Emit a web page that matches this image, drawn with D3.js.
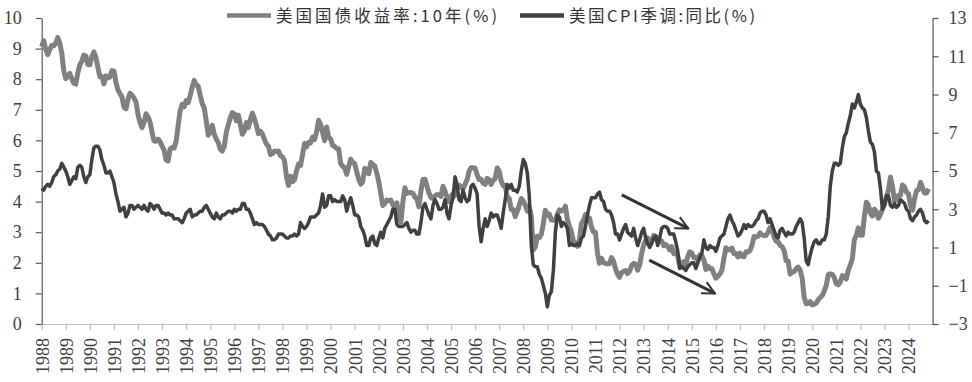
<!DOCTYPE html>
<html><head><meta charset="utf-8">
<script src="https://cdn.jsdelivr.net/npm/d3@7/dist/d3.min.js"></script>
<style>body{margin:0;background:#fff}</style>
</head><body><svg id="c" width="972" height="382"></svg>
<script>
const seriesNames = ["美国国债收益率:10年(%)", "美国CPI季调:同比(%)"];
const seriesColors = ["#808080", "#404040"];
const startYear = 1988, startMonth = 7; // first data point: Jul 1988
const yearLabels = [1988,1989,1990,1991,1992,1993,1994,1995,1996,1997,1998,1999,2000,2001,2002,2003,2004,2005,2006,2007,2008,2009,2010,2011,2012,2013,2014,2015,2016,2017,2018,2019,2020,2021,2022,2023,2024];
const leftTicks = [0,1,2,3,4,5,6,7,8,9,10];
const rightTicks = [-3,-1,1,3,5,7,9,11,13];

// US 10Y Treasury yield, monthly (%), Jul 1988 - May 2025
const yield10y = [
 9.06,9.26,8.98,8.80,8.96,9.11,
 9.09,9.17,9.36,9.18,8.86,8.28,8.02,8.11,8.19,8.01,7.87,7.84,
 8.21,8.47,8.59,8.79,8.76,8.48,8.47,8.75,8.89,8.72,8.39,8.08,
 8.09,7.85,8.11,8.04,8.07,8.28,8.27,7.90,7.65,7.53,7.42,7.09,
 7.03,7.34,7.54,7.48,7.39,7.26,6.84,6.59,6.42,6.59,6.87,6.77,
 6.60,6.26,5.98,5.97,6.04,5.96,5.81,5.68,5.36,5.33,5.72,5.77,
 5.75,5.97,6.48,6.97,7.18,7.10,7.30,7.24,7.46,7.74,7.96,7.81,
 7.78,7.47,7.20,7.06,6.63,6.17,6.28,6.49,6.20,6.04,5.93,5.71,
 5.65,5.81,6.27,6.51,6.74,6.91,6.87,6.64,6.83,6.53,6.20,6.30,
 6.58,6.42,6.69,6.89,6.71,6.49,6.22,6.30,6.21,6.03,5.88,5.81,
 5.54,5.57,5.65,5.64,5.65,5.50,5.46,5.34,4.81,4.53,4.83,4.65,
 4.72,5.00,5.23,5.18,5.54,5.90,5.79,5.94,5.92,6.11,6.03,6.28,
 6.66,6.52,6.26,5.99,6.44,6.10,6.05,5.83,5.80,5.74,5.72,5.24,
 5.16,5.10,4.89,5.14,5.39,5.28,5.24,4.97,4.73,4.57,4.65,5.09,
 5.04,4.91,5.28,5.21,5.16,4.93,4.65,4.26,3.87,3.94,4.05,4.03,
 4.05,3.90,3.81,3.96,3.57,3.33,3.98,4.45,4.27,4.29,4.30,4.27,
 4.15,4.08,3.83,4.35,4.72,4.73,4.50,4.28,4.13,4.10,4.19,4.23,
 4.22,4.17,4.50,4.34,4.14,4.00,4.18,4.26,4.20,4.46,4.54,4.47,
 4.42,4.57,4.72,4.99,5.11,5.11,5.09,4.88,4.72,4.73,4.60,4.56,
 4.76,4.72,4.56,4.69,4.75,5.10,5.00,4.67,4.52,4.53,4.15,4.10,
 3.74,3.74,3.51,3.68,3.88,4.10,4.01,3.89,3.69,3.81,3.53,2.42,
 2.52,2.87,2.82,2.93,3.29,3.72,3.56,3.59,3.40,3.39,3.40,3.59,
 3.73,3.69,3.73,3.85,3.42,3.20,3.01,2.70,2.65,2.54,2.76,3.29,
 3.39,3.58,3.41,3.46,3.17,3.00,3.00,2.30,1.98,2.15,2.01,1.98,
 1.97,1.97,2.17,2.05,1.80,1.62,1.53,1.68,1.72,1.75,1.65,1.72,
 1.91,1.98,1.96,1.76,1.93,2.30,2.58,2.74,2.81,2.62,2.72,2.90,
 2.86,2.71,2.72,2.71,2.56,2.60,2.54,2.42,2.53,2.30,2.33,2.21,
 1.88,1.98,2.04,1.94,2.20,2.36,2.32,2.17,2.17,2.07,2.26,2.24,
 2.09,1.78,1.89,1.81,1.81,1.64,1.50,1.56,1.63,1.76,2.14,2.49,
 2.43,2.42,2.48,2.30,2.30,2.19,2.32,2.21,2.20,2.36,2.35,2.40,
 2.58,2.86,2.84,2.87,2.98,2.91,2.89,2.89,3.00,3.15,3.12,2.83,
 2.71,2.68,2.57,2.53,2.40,2.07,2.06,1.63,1.70,1.71,1.81,1.86,
 1.76,1.50,0.87,0.66,0.67,0.73,0.62,0.65,0.68,0.79,0.87,0.93,
 1.08,1.26,1.61,1.64,1.62,1.52,1.32,1.28,1.37,1.58,1.56,1.47,
 1.76,1.93,2.13,2.75,2.90,3.14,2.90,2.90,3.52,3.98,3.89,3.62,
 3.53,3.75,3.66,3.46,3.57,3.75,3.90,4.17,4.38,4.80,4.50,4.02,
 4.06,4.21,4.21,4.54,4.48,4.31,4.25,3.87,3.72,4.10,4.36,4.39,
 4.63,4.45,4.28,4.28,4.42
];

// US CPI (seasonally adjusted) YoY (%), Jul 1988 - May 2025
const cpiYoY = [
 4.1,4.0,4.2,4.3,4.2,4.4,
 4.7,4.8,5.0,5.1,5.4,5.2,5.0,4.7,4.3,4.5,4.7,4.6,
 5.2,5.3,5.2,4.7,4.4,4.7,4.8,5.6,6.2,6.3,6.3,6.1,
 5.6,5.3,4.9,4.9,5.0,4.7,4.4,3.8,3.4,2.9,3.0,3.1,
 2.6,2.8,3.2,3.2,3.0,3.1,3.2,3.1,3.0,3.2,3.0,2.9,
 3.3,3.2,3.0,3.2,3.2,3.0,2.8,2.8,2.7,2.8,2.7,2.7,
 2.5,2.5,2.5,2.4,2.3,2.5,2.8,2.9,3.0,2.6,2.7,2.7,
 2.8,2.9,2.9,3.1,3.2,3.0,2.8,2.6,2.5,2.8,2.6,2.5,
 2.7,2.7,2.8,2.9,2.9,2.8,3.0,2.9,3.0,3.0,3.3,3.3,
 3.0,3.0,2.8,2.5,2.2,2.3,2.2,2.2,2.2,2.1,1.9,1.7,
 1.6,1.4,1.4,1.5,1.7,1.7,1.7,1.6,1.5,1.5,1.6,1.6,
 1.7,1.6,1.7,2.3,2.1,2.0,2.1,2.3,2.6,2.6,2.6,2.7,
 2.8,3.2,3.8,3.1,3.2,3.7,3.7,3.4,3.5,3.4,3.4,3.4,
 3.7,3.5,2.9,3.3,3.6,3.2,2.7,2.7,2.6,2.1,1.9,1.6,
 1.1,1.1,1.5,1.6,1.2,1.1,1.5,1.8,1.5,2.0,2.2,2.4,
 2.6,3.0,3.0,2.2,2.1,2.1,2.1,2.2,2.3,2.0,1.8,1.9,
 1.9,1.7,1.7,2.3,3.1,3.3,3.0,2.7,2.5,3.2,3.5,3.3,
 3.0,3.0,3.1,3.5,2.8,2.5,3.2,3.6,4.7,4.3,3.5,3.4,
 4.0,3.6,3.4,3.5,4.2,4.3,4.1,3.8,2.1,1.3,2.0,2.5,
 2.1,2.4,2.8,2.6,2.7,2.7,2.4,2.0,2.8,3.5,4.3,4.1,
 4.3,4.0,4.0,3.9,4.2,5.0,5.6,5.4,4.9,3.7,1.1,0.1,
 0.0,0.0,-0.4,-0.6,-1.0,-1.4,-2.1,-1.5,-1.3,-0.2,1.8,2.7,
 2.6,2.1,2.3,2.2,2.0,1.1,1.2,1.1,1.1,1.2,1.1,1.5,
 1.6,2.1,2.7,3.2,3.6,3.6,3.6,3.8,3.9,3.5,3.4,3.0,
 2.9,2.9,2.7,2.3,1.7,1.7,1.4,1.7,2.0,2.2,1.8,1.7,
 1.6,2.0,1.5,1.1,1.4,1.8,2.0,1.5,1.2,1.0,1.2,1.5,
 1.6,1.1,1.5,2.0,2.1,2.1,2.0,1.7,1.7,1.7,1.3,0.8,
 -0.1,0.0,-0.1,-0.2,0.0,0.1,0.2,0.2,-0.1,0.2,0.5,0.7,
 1.4,1.0,0.9,1.1,1.0,1.0,0.8,1.1,1.5,1.6,1.7,2.1,
 2.5,2.7,2.4,2.2,1.9,1.6,1.7,1.9,2.2,2.0,2.2,2.1,
 2.1,2.2,2.4,2.5,2.8,2.9,2.9,2.7,2.3,2.5,2.2,1.9,
 1.6,1.5,1.9,2.0,1.8,1.6,1.8,1.7,1.7,1.8,2.1,2.3,
 2.5,2.3,1.5,0.3,0.1,0.6,1.0,1.3,1.4,1.2,1.2,1.4,
 1.4,1.7,2.6,4.2,5.0,5.4,5.4,5.3,5.4,6.2,6.8,7.0,
 7.5,7.9,8.5,8.3,8.6,9.0,8.5,8.3,8.2,7.8,7.1,6.5,
 6.4,6.0,5.0,4.9,4.1,3.0,3.2,3.7,3.7,3.2,3.1,3.3,
 3.1,3.2,3.5,3.4,3.3,3.0,2.9,2.5,2.4,2.6,2.7,2.9,
 3.0,2.8,2.4,2.3,2.4
];

// Trend arrows (start/end in fractional year & axis value)
const arrowFrom = [[2012.59, 3.75, "right"], [2013.73, 2.09, "left"]];
const arrowTo   = [[2015.35, 2.00, "right"], [2016.46, 1.00, "left"]];

const svg = d3.select("#c");
const axisL = 41.7, axisR = 932.6, plotTop = 18, plotBottom = 324;
const t0 = startYear + (startMonth - 1) / 12;
const x = d3.scaleLinear().domain([1988.5, 2025.5]).range([axisL, axisR]);
const yL = d3.scaleLinear().domain([0, 10]).range([plotBottom, plotTop]);
const yR = d3.scaleLinear().domain([-3, 13]).range([plotBottom, plotTop]);

const numFont = "'Liberation Serif', 'DejaVu Serif', serif";
const textCol = "#404040";

function styleText(sel) {
  sel.attr("fill", textCol).attr("font-family", numFont).attr("font-size", 18)
     .style("font-family", numFont).style("font-size", "18px");
}

// X axis
const gx = svg.append("g").attr("transform", `translate(0,${plotBottom})`)
  .call(d3.axisBottom(x).tickValues(yearLabels.map(y => y + 0.5))
    .tickFormat((d, i) => String(yearLabels[i])).tickSize(6).tickSizeOuter(0));
gx.attr("font-family", numFont);
gx.select(".domain").attr("stroke", "#bfbfbf").attr("stroke-width", 1.2);
gx.selectAll(".tick line").attr("stroke", "#bfbfbf").attr("stroke-width", 1.2);
gx.selectAll(".tick text")
  .attr("transform", "rotate(-90)").attr("x", -14).attr("y", 0).attr("dy", "0.35em")
  .attr("text-anchor", "end").call(styleText);

// Left axis
const gl = svg.append("g").attr("transform", `translate(${axisL},0)`)
  .call(d3.axisLeft(yL).tickValues(leftTicks).tickSize(6).tickPadding(14).tickSizeOuter(0));
gl.attr("font-family", numFont);
gl.select(".domain").attr("stroke", "#595959").attr("stroke-width", 1.2);
gl.selectAll(".tick line").attr("stroke", "#595959").attr("stroke-width", 1.2);
gl.selectAll(".tick text").call(styleText);

// Right axis
const gr = svg.append("g").attr("transform", `translate(${axisR},0)`)
  .call(d3.axisRight(yR).tickValues(rightTicks).tickSize(6).tickPadding(10).tickSizeOuter(0));
gr.attr("font-family", numFont);
gr.select(".domain").attr("stroke", "#595959").attr("stroke-width", 1.2);
gr.selectAll(".tick line").attr("stroke", "#595959").attr("stroke-width", 1.2);
gr.selectAll(".tick text").call(styleText);

// Lines
const lineL = d3.line().x((d, i) => x(t0 + i / 12)).y(d => yL(d));
const lineR = d3.line().x((d, i) => x(t0 + i / 12)).y(d => yR(d));
svg.append("path").datum(yield10y).attr("d", lineL).attr("fill", "none")
  .attr("stroke", seriesColors[0]).attr("stroke-width", 5).attr("stroke-linejoin", "round");
svg.append("path").datum(cpiYoY).attr("d", lineR).attr("fill", "none")
  .attr("stroke", seriesColors[1]).attr("stroke-width", 3.5).attr("stroke-linejoin", "round");

// Arrows
const defs = svg.append("defs");
defs.append("marker").attr("id", "ah").attr("viewBox", "0 0 12 12").attr("refX", 11).attr("refY", 6)
  .attr("markerWidth", 5).attr("markerHeight", 5).attr("markerUnits", "strokeWidth").attr("orient", "auto")
  .append("path").attr("d", "M1,1 L11,6 L1,11").attr("fill", "none").attr("stroke", "#333").attr("stroke-width", 1.6);
arrowFrom.forEach((a, k) => {
  const b = arrowTo[k];
  const ya = a[2] === "right" ? yR : yL, yb = b[2] === "right" ? yR : yL;
  svg.append("line").attr("x1", x(a[0])).attr("y1", ya(a[1])).attr("x2", x(b[0])).attr("y2", yb(b[1]))
    .attr("stroke", "#333").attr("stroke-width", 3).attr("marker-end", "url(#ah)");
});

// Legend
const legendX = [227, 520], legendTextW = [221, 186];
seriesNames.forEach((name, i) => {
  const g = svg.append("g");
  g.append("line").attr("x1", legendX[i]).attr("x2", legendX[i] + 44).attr("y1", 15.5).attr("y2", 15.5)
    .attr("stroke", seriesColors[i]).attr("stroke-width", 4.5);
  g.append("text").attr("x", legendX[i] + 49).attr("y", 21.5).text(name)
    .attr("fill", "#333").attr("textLength", legendTextW[i]).attr("lengthAdjust", "spacing")
    .style("font-family", "'Noto Sans CJK SC', sans-serif").style("font-size", "16.5px");
});
</script></body></html>
